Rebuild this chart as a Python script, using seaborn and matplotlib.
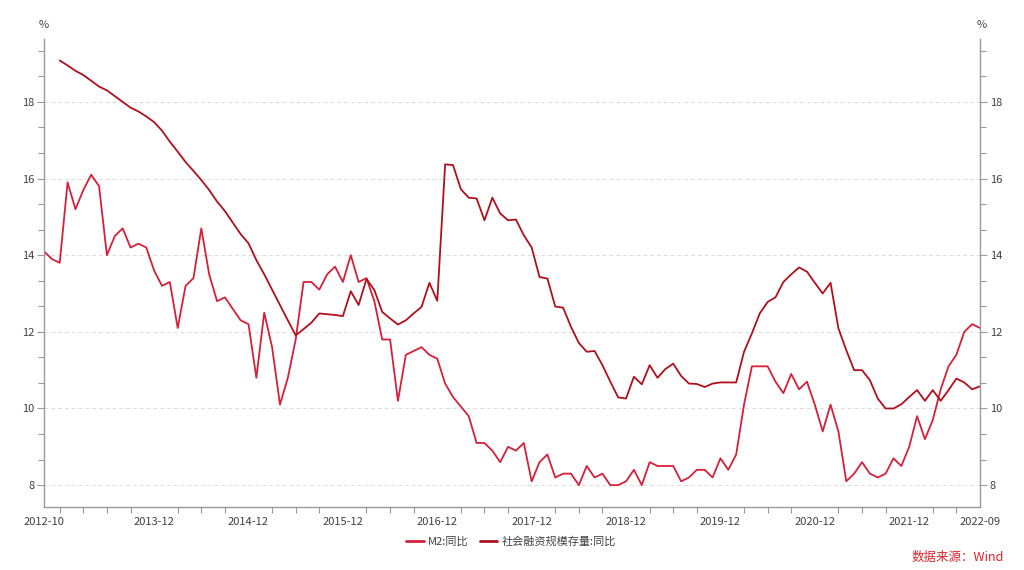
import numpy as np
import pandas as pd
import matplotlib
matplotlib.use("Agg")
import matplotlib.pyplot as plt
from matplotlib.ticker import FixedLocator, MultipleLocator
import seaborn as sns

# ---------------- data ----------------
start_month = "2012-10"
m2 = [
    14.1, 13.9, 13.8,
    15.9, 15.2, 15.7, 16.1, 15.8, 14.0, 14.5, 14.7, 14.2, 14.3, 14.2, 13.6,
    13.2, 13.3, 12.1, 13.2, 13.4, 14.7, 13.5, 12.8, 12.9, 12.6, 12.3, 12.2,
    10.8, 12.5, 11.6, 10.1, 10.8, 11.8, 13.3, 13.3, 13.1, 13.5, 13.7, 13.3,
    14.0, 13.3, 13.4, 12.8, 11.8, 11.8, 10.2, 11.4, 11.5, 11.6, 11.4, 11.3,
    10.65, 10.3, 10.05, 9.8, 9.1, 9.1, 8.9, 8.6, 9.0, 8.9, 9.1, 8.1,
    8.6, 8.8, 8.2, 8.3, 8.3, 8.0, 8.5, 8.2, 8.3, 8.0, 8.0, 8.1,
    8.4, 8.0, 8.6, 8.5, 8.5, 8.5, 8.1, 8.2, 8.4, 8.4, 8.2, 8.7,
    8.4, 8.8, 10.1, 11.1, 11.1, 11.1, 10.7, 10.4, 10.9, 10.5, 10.7, 10.1,
    9.4, 10.1, 9.4, 8.1, 8.3, 8.6, 8.3, 8.2, 8.3, 8.7, 8.5, 9.0,
    9.8, 9.2, 9.7, 10.5, 11.1, 11.4, 12.0, 12.2, 12.1,
]
# 社会融资规模存量:同比 starts 2012-12
tsf_start_month = "2012-12"
tsf = [
    19.08,
    18.95, 18.81, 18.7, 18.55, 18.4, 18.3, 18.15, 18.0, 17.85, 17.75, 17.62, 17.47,
    17.25, 16.96, 16.7, 16.43, 16.2, 15.96, 15.7, 15.4, 15.15, 14.85, 14.55, 14.31,
    13.87, 13.5, 13.1, 12.7, 12.3, 11.91, 12.07, 12.24, 12.48, 12.46, 12.44, 12.41,
    13.06, 12.7, 13.38, 13.09, 12.52, 12.35, 12.19, 12.3, 12.48, 12.65, 13.28, 12.81,
    16.37, 16.35, 15.72, 15.5, 15.48, 14.91, 15.5, 15.09, 14.91, 14.93, 14.52, 14.2,
    13.43, 13.39, 12.66, 12.63, 12.13, 11.71, 11.48, 11.5, 11.13, 10.7, 10.29, 10.26,
    10.83, 10.63, 11.13, 10.8, 11.03, 11.17, 10.85, 10.65, 10.64, 10.56, 10.65, 10.68,
    10.68, 10.68, 11.48, 11.96, 12.48, 12.78, 12.9, 13.3, 13.5, 13.68, 13.57, 13.28,
    13.0, 13.28, 12.09, 11.52, 11.0, 11.0, 10.74, 10.26, 10.0, 10.0, 10.11, 10.3,
    10.48, 10.2, 10.48, 10.2, 10.48, 10.78, 10.68, 10.5, 10.58,
]
series_names = ["M2:同比", "社会融资规模存量:同比"]
major_tick_labels = ["2012-10", "2013-12", "2014-12", "2015-12", "2016-12",
                     "2017-12", "2018-12", "2019-12", "2020-12", "2021-12", "2022-09"]
y_ticks = [8, 10, 12, 14, 16, 18]
source_text = "数据来源：Wind"

# ---------------- build frame ----------------
months = pd.period_range(start_month, periods=len(m2), freq="M")
tsf_months = pd.period_range(tsf_start_month, periods=len(tsf), freq="M")
month_str = [str(p) for p in months]
idx_of = {s: i for i, s in enumerate(month_str)}

df = pd.concat([
    pd.DataFrame({"idx": [idx_of[str(p)] for p in months], "value": m2, "series": series_names[0]}),
    pd.DataFrame({"idx": [idx_of[str(p)] for p in tsf_months], "value": tsf, "series": series_names[1]}),
], ignore_index=True)

# ---------------- style ----------------
sns.set_theme(style="white")
plt.rcParams["font.family"] = ["Noto Sans CJK SC", "DejaVu Sans"]
plt.rcParams["axes.unicode_minus"] = False

c_m2 = "#d6203a"
c_tsf = "#b0101c"
spine_c = "#9a9a9a"
text_c = "#404040"

fig = plt.figure(figsize=(10.24, 5.70), dpi=100)
ax = fig.add_axes([44 / 1024, 63 / 570, 936 / 1024, 468 / 570])

sns.lineplot(data=df, x="idx", y="value", hue="series", hue_order=series_names,
             palette=[c_m2, c_tsf], linewidth=1.3, ax=ax, legend=False)

ylim = (7.43, 19.64)
ax.set_xlim(0, len(m2) - 1)
ax.set_ylim(*ylim)
ax.set_xlabel("")
ax.set_ylabel("")

# x ticks
major_idx = [idx_of[s] for s in major_tick_labels]
ax.set_xticks(major_idx)
ax.set_xticklabels(major_tick_labels, fontsize=8, color=text_c)
minor_idx = [i for i, s in enumerate(month_str) if int(s[-2:]) % 3 == 0]
ax.xaxis.set_minor_locator(FixedLocator(minor_idx))

# y ticks
ax.set_yticks(y_ticks)
ax.set_yticklabels([str(v) for v in y_ticks], fontsize=8, color=text_c)
ax.yaxis.set_minor_locator(MultipleLocator(2 / 3))
ax.grid(axis="y", which="major", linestyle=(0, (4, 3)), color="#dcdcdc", linewidth=0.7)
ax.grid(axis="x", visible=False)

ax.tick_params(axis="both", which="major", direction="out", length=5, width=0.8,
               color=spine_c, pad=2)
ax.tick_params(axis="both", which="minor", direction="out", length=4, width=0.8,
               color=spine_c)
ax.tick_params(axis="x", which="minor", bottom=True)

for side in ["top", "right"]:
    ax.spines[side].set_visible(False)
for side in ["left", "bottom"]:
    ax.spines[side].set_color(spine_c)
    ax.spines[side].set_linewidth(1.0)

# right axis mirroring the left
ax2 = ax.twinx()
ax2.set_ylim(*ylim)
ax2.set_yticks(y_ticks)
ax2.set_yticklabels([str(v) for v in y_ticks], fontsize=8, color=text_c)
ax2.yaxis.set_minor_locator(MultipleLocator(2 / 3))
ax2.tick_params(axis="y", which="major", direction="out", length=5, width=0.8,
                color=spine_c, pad=2)
ax2.tick_params(axis="y", which="minor", direction="out", length=4, width=0.8,
                color=spine_c)
for side in ["top", "left", "bottom"]:
    ax2.spines[side].set_visible(False)
ax2.spines["right"].set_color(spine_c)
ax2.spines["right"].set_linewidth(1.0)
ax2.grid(False)

# unit labels
fig.text(44 / 1024, 1 - 25 / 570, "%", ha="center", va="center", fontsize=8, color=text_c)
fig.text(982 / 1024, 1 - 25 / 570, "%", ha="center", va="center", fontsize=8, color=text_c)

# legend
handles = [plt.Line2D([], [], color=c_m2, linewidth=2),
           plt.Line2D([], [], color=c_tsf, linewidth=2)]
fig.legend(handles, series_names, loc="center", bbox_to_anchor=(511 / 1024, 1 - 542 / 570),
           ncol=2, frameon=False, fontsize=8, handlelength=1.6, handletextpad=0.4,
           columnspacing=1.0, labelcolor=text_c)

# source
fig.text(1004 / 1024, 1 - 557 / 570, source_text, ha="right", va="center",
         fontsize=9, color="#e0222a")

fig.savefig("out.png", dpi=100)
